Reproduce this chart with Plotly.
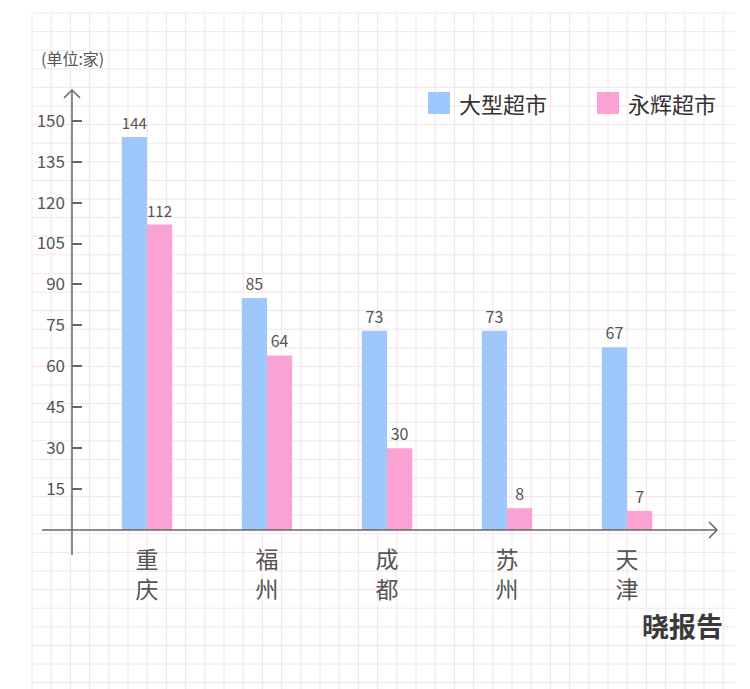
import plotly.graph_objects as go

cities = ["重庆", "福州", "成都", "苏州", "天津"]
big_market = [144, 85, 73, 73, 67]
yonghui = [112, 64, 30, 8, 7]
y_ticks = [15, 30, 45, 60, 75, 90, 105, 120, 135, 150]

W, H = 750, 689
OFF = 8  # page body margin
blue = "#9ec8fb"
pink = "#f9a2d3"
grey = "#555555"
axis_col = "#666666"
font = "Noto Sans CJK SC"


def px(x):
    return (x - OFF) / W


def py(y):
    return 1 - (y - OFF) / H


fig = go.Figure()
xs = list(range(len(cities)))
fig.add_trace(go.Bar(x=xs, y=big_market, name="大型超市", marker_color=blue,
                     marker_line_width=0, width=0.21, offset=-0.21, text=big_market,
                     textposition="outside", textfont=dict(size=16, color=grey),
                     cliponaxis=False, showlegend=False))
fig.add_trace(go.Bar(x=xs, y=yonghui, name="永辉超市", marker_color=pink,
                     marker_line_width=0, width=0.21, offset=0, text=yonghui,
                     textposition="outside", textfont=dict(size=16, color=grey),
                     cliponaxis=False, showlegend=False))

fig.update_layout(
    width=W, height=H, margin=dict(l=0, r=0, t=0, b=0),
    paper_bgcolor="white", plot_bgcolor="rgba(0,0,0,0)",
    font=dict(family=font, color=grey),
    barmode="overlay",
    xaxis=dict(domain=[px(72), px(718)], range=[-0.625, 4.758], tickvals=xs,
               ticktext=[c[0] + "<br>" + c[1] for c in cities],
               tickfont=dict(size=23, color=grey), showgrid=False, zeroline=False,
               ticks="", showline=False, ticklabelstandoff=14),
    yaxis=dict(domain=[py(530), py(88)], range=[0, 162], tickvals=y_ticks,
               tickfont=dict(size=17, color=grey), showgrid=False, zeroline=False,
               ticks="inside", ticklen=10, tickcolor=axis_col, tickwidth=1.5,
               showline=False, ticklabelstandoff=6),
    showlegend=False,
)

# background grid
grid = "#f5e4ea"
gx = 32
while gx <= 735:
    fig.add_shape(type="line", xref="paper", yref="paper", x0=px(gx), x1=px(gx),
                  y0=py(13), y1=py(700), line=dict(color=grid, width=1), layer="below")
    gx += 19.2
gy = 13
while gy <= 700:
    fig.add_shape(type="line", xref="paper", yref="paper", x0=px(32), x1=px(735),
                  y0=py(gy), y1=py(gy), line=dict(color=grid, width=1), layer="below")
    gy += 18.6

# axes with arrows
fig.add_shape(type="line", xref="paper", yref="paper", x0=px(42), x1=px(717),
              y0=py(530), y1=py(530), line=dict(color=axis_col, width=1.5))
fig.add_shape(type="line", xref="paper", yref="paper", x0=px(72), x1=px(72),
              y0=py(555), y1=py(90), line=dict(color=axis_col, width=1.5))
fig.add_shape(type="path", xref="paper", yref="paper",
              path=f"M {px(709)} {py(522)} L {px(717)} {py(530)} L {px(709)} {py(538)}",
              line=dict(color=axis_col, width=1.5))
fig.add_shape(type="path", xref="paper", yref="paper",
              path=f"M {px(64)} {py(98)} L {px(72)} {py(90)} L {px(80)} {py(98)}",
              line=dict(color=axis_col, width=1.5))

# legend
for x0, col, label in [(428, blue, "大型超市"), (597, pink, "永辉超市")]:
    fig.add_shape(type="rect", xref="paper", yref="paper", x0=px(x0), x1=px(x0 + 22),
                  y0=py(92), y1=py(114), fillcolor=col, line_width=0)
    fig.add_annotation(text=label, xref="paper", yref="paper", x=px(x0 + 29), y=py(103),
                       xanchor="left", yanchor="middle", showarrow=False,
                       font=dict(size=22, color="#333333"))

fig.add_annotation(text="(单位:家)", xref="paper", yref="paper", x=px(39), y=py(58),
                   xanchor="left", yanchor="middle", showarrow=False,
                   font=dict(size=16, color=grey))
fig.add_annotation(text="<b>晓报告</b>", xref="paper", yref="paper", x=px(725), y=py(625),
                   xanchor="right", yanchor="middle", showarrow=False,
                   font=dict(size=27, color="#3a3a3a"))

fig.write_html("out.html")
